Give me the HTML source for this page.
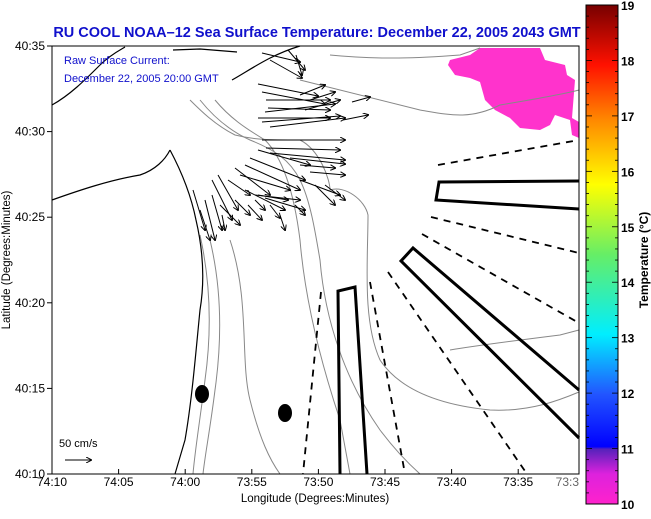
<!DOCTYPE html>
<html><head><meta charset="utf-8"><style>
html,body{margin:0;padding:0;background:#fff;}
svg{display:block;font-family:"Liberation Sans",sans-serif;}
</style></head><body>
<svg id="c" width="651" height="519" viewBox="0 0 651 519">
<defs>
<linearGradient id="cb" x1="0" y1="1" x2="0" y2="0">
<stop offset="0" stop-color="#ff22cc"/><stop offset="0.06" stop-color="#dd22dd"/><stop offset="0.11" stop-color="#5522bb"/><stop offset="0.115" stop-color="#0000ff"/>
<stop offset="0.22" stop-color="#2255ff"/><stop offset="0.34" stop-color="#00eeff"/><stop offset="0.5" stop-color="#66ee66"/>
<stop offset="0.64" stop-color="#ffff00"/><stop offset="0.77" stop-color="#ff8800"/><stop offset="0.88" stop-color="#ff1100"/><stop offset="1" stop-color="#770000"/>
</linearGradient>
<marker id="ah" markerWidth="6" markerHeight="6" refX="5" refY="3" orient="auto" markerUnits="userSpaceOnUse"><path d="M0,0 L6,3 L0,6" fill="none" stroke="#000" stroke-width="1"/></marker>
</defs>
<text x="317" y="37" text-anchor="middle" font-size="14.5" font-weight="bold" fill="#1010cc">RU COOL  NOAA–12  Sea Surface Temperature:  December 22, 2005 2043 GMT</text>
<g id="map">
<polygon fill="#ff33cc" points="450,60 470,55 480,48 540,48 545,60 565,65 567,75 575,80 572,118 579,122 579,138 572,135 570,120 555,115 550,125 540,130 520,128 510,118 495,110 485,100 480,82 470,78 455,75 448,65"/>
<g fill="none" stroke="#888" stroke-width="1">
<path d="M190,100 C200,110 215,125 235,135 C255,140 270,140 300,140 C320,150 330,180 330,190 C345,185 365,200 368,215 C368,260 362,320 380,360 C400,390 440,405 490,410 C530,412 560,400 579,392"/>
<path d="M200,100 C212,115 228,130 250,140 C275,150 290,160 300,180 C310,200 315,230 320,260 C325,320 345,380 380,430 C395,450 410,465 420,474"/>
<path d="M215,100 C230,118 245,128 265,140 C285,160 295,200 300,240 C305,300 320,360 340,420 L350,474"/>
<path d="M300,80 C340,90 380,100 420,110 C450,115 470,120 500,105 C530,100 560,95 579,90"/>
<path d="M330,55 C380,60 420,58 460,55 L480,48"/>
<path d="M200,235 C210,280 212,330 205,380 C200,420 195,450 193,474"/>
<path d="M210,240 C222,290 222,340 215,390 C210,430 205,455 203,474"/>
<path d="M230,240 C250,300 240,360 250,400 C260,440 270,460 280,474"/>
<path d="M450,350 C480,345 520,340 560,335 L579,330"/>
</g>
<g fill="none" stroke="#000" stroke-width="1.2">
<path d="M52,105 C70,95 85,80 100,65 C110,55 120,50 125,47"/>
<path d="M173,50 L200,49 L237,52"/>
<path d="M232,80 C250,70 270,55 300,46"/>
<path d="M170,150 C178,165 190,190 196,220 C203,250 205,280 200,310 C196,350 192,400 185,440 L175,474"/>
<path d="M52,200 C80,190 110,180 140,175 C155,170 165,160 170,150"/>
</g>
<g id="arrows"></g>
<g fill="none" stroke="#000" stroke-width="3">
<polyline points="579,181 439,182 436,200 579,209"/>
<polyline points="579,390 413,248 401,261 579,438"/>
<polyline points="340,474 338,291 355,287 367,474"/>
</g>
<g fill="none" stroke="#000" stroke-width="1.8" stroke-dasharray="7,6">
<line x1="438" y1="165" x2="579" y2="140"/>
<line x1="431" y1="217" x2="579" y2="253"/>
<line x1="422" y1="234" x2="579" y2="323"/>
<line x1="388" y1="272" x2="527" y2="474"/>
<line x1="370" y1="282" x2="405" y2="474"/>
<line x1="321" y1="292" x2="303" y2="474"/>
</g>
<ellipse cx="202" cy="394" rx="7" ry="9" fill="#000"/>
<ellipse cx="285" cy="413" rx="7" ry="9" fill="#000"/>
<text x="64" y="64" font-size="11" fill="#1010cc">Raw Surface Current:</text>
<text x="64" y="82" font-size="11" fill="#1010cc">December 22, 2005 20:00 GMT</text>
<text x="59" y="447" font-size="11" fill="#000">50 cm/s</text>
<line x1="65" y1="460" x2="91" y2="460" stroke="#000" stroke-width="1" marker-end="url(#ah)"/>
</g>
<rect x="52" y="46" width="527" height="428" fill="none" stroke="#000" stroke-width="1"/>
<g id="axes" font-size="12" fill="#000"></g>
<text x="315" y="502" text-anchor="middle" font-size="11.5">Longitude (Degrees:Minutes)</text>
<text transform="translate(10,260) rotate(-90)" text-anchor="middle" font-size="11.5">Latitude (Degrees:Minutes)</text>
<rect x="586" y="5" width="32" height="499" fill="url(#cb)" stroke="#000" stroke-width="1"/>
<g id="cbticks" font-size="12" font-weight="bold"></g>
<text transform="translate(648,260) rotate(-90)" text-anchor="middle" font-size="12" font-weight="bold">Temperature (°C)</text>
</svg>
<script>
const yTicks=["40:35","40:30","40:25","40:20","40:15","40:10"];
const xTicks=["74:10","74:05","74:00","73:55","73:50","73:45","73:40","73:35","73:3"];
const cbTicks=[10,11,12,13,14,15,16,17,18,19];
const arrowTails=[[262,53],[270,60],[288,50],[296,55],[258,84],[262,92],[266,100],[268,108],[265,112],[258,118],[262,122],[270,127],[300,95],[310,100],[305,110],[352,102],[343,120],[262,140],[266,148],[270,153],[290,158],[300,165],[310,172],[258,150],[250,158],[245,165],[240,175],[235,168],[245,190],[255,195],[265,198],[300,180],[315,185],[325,185],[218,175],[212,180],[212,195],[205,200],[220,205],[235,200],[248,205],[255,200],[270,205],[258,195],[295,205],[222,215],[280,215],[193,190],[200,210],[228,180]];
const arrowHeads=[[300,62],[302,78],[305,70],[302,75],[318,96],[325,104],[330,100],[330,110],[335,104],[330,118],[340,116],[345,118],[325,85],[335,92],[340,100],[370,97],[368,115],[345,140],[340,150],[345,160],[345,164],[335,168],[345,175],[310,165],[305,180],[300,190],[290,190],[270,195],[285,210],[300,200],[305,210],[340,195],[335,205],[345,200],[238,210],[232,220],[222,230],[215,240],[240,225],[250,215],[262,220],[265,210],[280,218],[288,200],[305,215],[225,230],[285,230],[205,230],[210,240],[250,195]];
const NS="http://www.w3.org/2000/svg";
const X0=52,X1=579,Y0=46,Y1=474;
function yPos(i){return Y0+i*(Y1-Y0)/(yTicks.length-1);}
function xPos(i){return X0+i*66.6;}
function cbY(v){return 504-(v-10)*(499/9);}
const ax=document.getElementById('axes');
yTicks.forEach((t,i)=>{const y=yPos(i);
 const l=document.createElementNS(NS,'line');l.setAttribute('x1',X0-5);l.setAttribute('x2',X0);l.setAttribute('y1',y);l.setAttribute('y2',y);l.setAttribute('stroke','#000');
 
 ax.appendChild(l);
 const s=document.createElementNS(NS,'text');s.setAttribute('x',X0-7);s.setAttribute('y',y+4);s.setAttribute('text-anchor','end');s.textContent=t;
 
 ax.appendChild(s);});
xTicks.forEach((t,i)=>{const x=Math.min(xPos(i),X1);
 const l=document.createElementNS(NS,'line');l.setAttribute('x1',x);l.setAttribute('x2',x);l.setAttribute('y1',Y1-5);l.setAttribute('y2',Y1);l.setAttribute('stroke','#000');
 
 ax.appendChild(l);
 const s=document.createElementNS(NS,'text');s.setAttribute('x',i===xTicks.length-1?X1:x);s.setAttribute('y',Y1+12);s.setAttribute('text-anchor',i===xTicks.length-1?'end':'middle');s.setAttribute('fill',i===xTicks.length-1?'#666':'#000');s.textContent=t;
 
 ax.appendChild(s);});
const cb=document.getElementById('cbticks');
for(let v=10;v<=19;v+=0.2){const y=cbY(v);const major=Math.abs(v-Math.round(v))<0.01;
 [[586,586+(major?6:3)],[618-(major?6:3),618]].forEach(p=>{const l=document.createElementNS(NS,'line');l.setAttribute('x1',p[0]);l.setAttribute('x2',p[1]);l.setAttribute('y1',y);l.setAttribute('y2',y);l.setAttribute('stroke','#000');l.setAttribute('stroke-width','0.8');
 
 cb.appendChild(l);});}
cbTicks.forEach(v=>{const s=document.createElementNS(NS,'text');s.setAttribute('x',621);s.setAttribute('y',cbY(v)+5);s.textContent=v;
 
 cb.appendChild(s);});
const ag=document.getElementById('arrows');
arrowTails.forEach((t,i)=>{const h=arrowHeads[i];const l=document.createElementNS(NS,'line');
 l.setAttribute('x1',t[0]);l.setAttribute('y1',t[1]);l.setAttribute('x2',h[0]);l.setAttribute('y2',h[1]);l.setAttribute('stroke','#000');l.setAttribute('stroke-width','1');l.setAttribute('marker-end','url(#ah)');
 
 ag.appendChild(l);});
</script>
</body></html>
